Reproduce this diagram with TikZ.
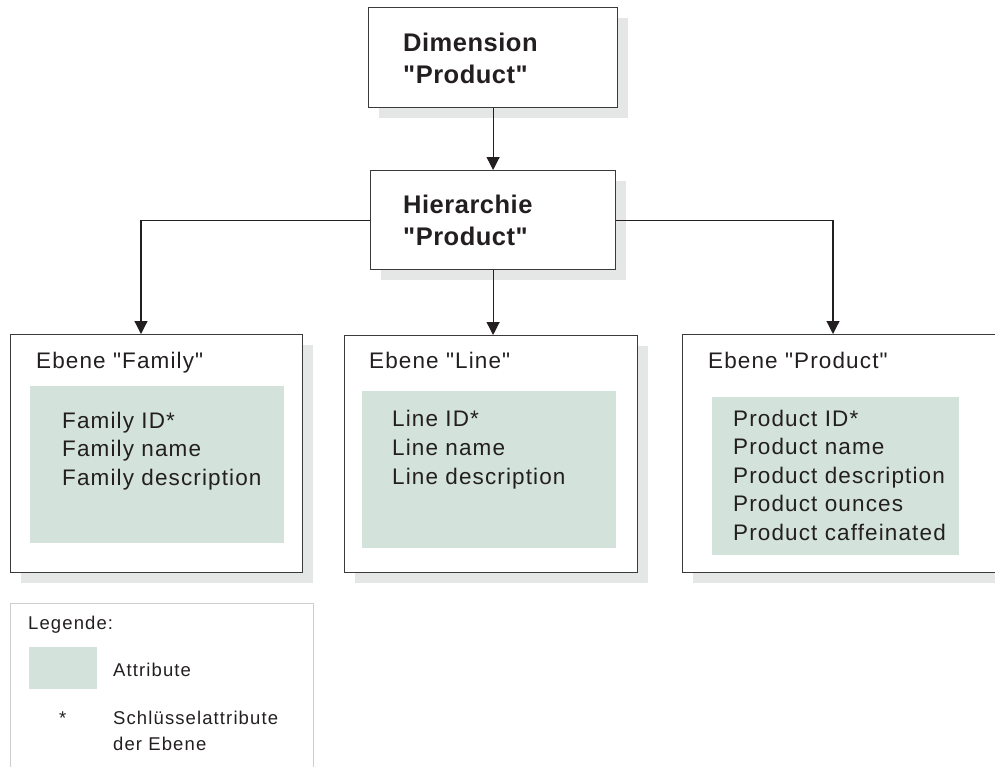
\documentclass[tikz,border=0pt]{standalone}
\usepackage{fontspec}
\setmainfont{Liberation Sans}[LetterSpace=5, Ligatures=TeXOff]
\usetikzlibrary{arrows.meta,shadows}

\definecolor{attrgreen}{HTML}{D3E2DB}
\definecolor{shade}{HTML}{E5E7E6}
\definecolor{ink}{HTML}{231F20}
\definecolor{frame}{HTML}{3A3A3A}
\definecolor{legendframe}{HTML}{CDCDCD}

\begin{document}
\begin{tikzpicture}[x=1pt,y=-1pt,
  box/.style={draw=frame, line width=1.2pt, fill=white, anchor=north west,
    inner sep=0pt,
    general shadow={fill=shade, shadow xshift=10pt, shadow yshift=-10pt}},
  attrbox/.style={fill=attrgreen, anchor=north west, inner sep=0pt},
  title/.style={anchor=base west, inner sep=0pt, text=ink,
    font=\fontsize{25.5}{31}\selectfont\bfseries\addfontfeatures{LetterSpace=2}},
  level/.style={anchor=base west, inner sep=0pt, text=ink,
    font=\fontsize{22.5}{28}\selectfont},
  legtext/.style={anchor=base west, inner sep=0pt, text=ink,
    font=\fontsize{18.5}{22}\selectfont\addfontfeatures{LetterSpace=6}},
  conn/.style={draw=ink, line width=1.2pt,
    -{Triangle[width=13pt,length=13pt]}}
]
\clip (0,0) rectangle (995,766);

% dimension and hierarchy
\node[box, minimum width=249pt, minimum height=100pt] (dim) at (368,7) {};
\node[title] (dimA) at (403,51) {Dimension};
\node[title] (dimB) at (403,83) {"Product"};

\node[box, minimum width=245pt, minimum height=99pt] (hier) at (370,170) {};
\node[title] (hierA) at (403,213) {Hierarchie};
\node[title] (hierB) at (403,245) {"Product"};

% level boxes
\node[box, minimum width=292pt, minimum height=238pt] (fam) at (10,334) {};
\node[attrbox, minimum width=254pt, minimum height=157pt] (famattr) at (30,386) {};
\node[level] (famhead) at (36,368) {Ebene "Family"};
\node[level] (fam1) at (62,428) {Family ID*};
\node[level] (fam2) at (62,456.5) {Family name};
\node[level] (fam3) at (62,485) {Family description};

\node[box, minimum width=293pt, minimum height=237pt] (line) at (344,335) {};
\node[attrbox, minimum width=254pt, minimum height=157pt] (lineattr) at (362,391) {};
\node[level] (linehead) at (369,368) {Ebene "Line"};
\node[level] (line1) at (392,426) {Line ID*};
\node[level] (line2) at (392,455) {Line name};
\node[level] (line3) at (392,484) {Line description};

\node[box, minimum width=330pt, minimum height=238pt] (prod) at (682,334) {};
\node[attrbox, minimum width=247pt, minimum height=158pt] (prodattr) at (712,397) {};
\node[level] (prodhead) at (708,368) {Ebene "Product"};
\node[level] (prod1) at (733,426) {Product ID*};
\node[level] (prod2) at (733,454.5) {Product name};
\node[level] (prod3) at (733,483) {Product description};
\node[level] (prod4) at (733,511.5) {Product ounces};
\node[level] (prod5) at (733,540) {Product caffeinated};

% connectors
\coordinate (famin) at (141,334);
\coordinate (prodin) at (833,334);
\draw[conn] (dim.south) -- (hier.north);
\draw[conn] (hier.west) -| (famin);
\draw[conn] (hier.east) -| (prodin);
\draw[conn] (hier.south) -- (hier.south |- line.north);

% legend
\node[draw=legendframe, line width=1pt, anchor=north west, inner sep=0pt,
  minimum width=303pt, minimum height=190pt] (legend) at (10,603) {};
\node[legtext] (leghead) at (28,629) {Legende:};
\node[attrbox, minimum width=68pt, minimum height=42pt] (legswatch) at (29,647) {};
\node[legtext] (legattr) at (113,676) {Attribute};
\node[legtext] (legstar) at (59,724) {*};
\node[legtext] (legkeyA) at (113,724) {Schlüsselattribute};
\node[legtext] (legkeyB) at (113,750) {der Ebene};
\end{tikzpicture}
\end{document}
